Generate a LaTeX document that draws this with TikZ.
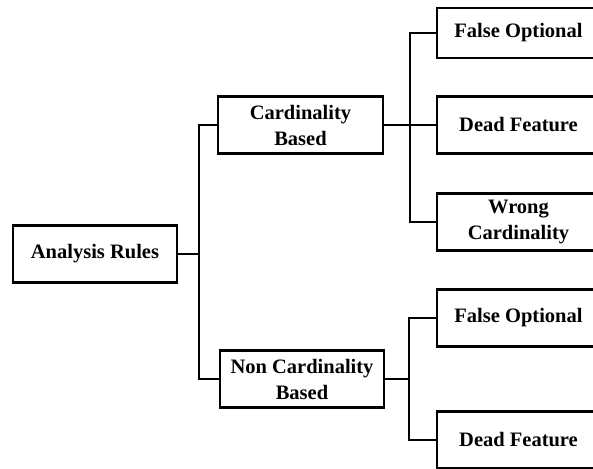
\documentclass[tikz,border=0pt]{standalone}
\usepackage{fontspec}
\setmainfont{Liberation Serif}
\begin{document}
\begin{tikzpicture}[x=1pt,y=-1pt,
  box/.style={draw, line width=2.8pt, fill=white, align=center, inner sep=0pt,
    font=\fontsize{20.5}{26}\selectfont\bfseries},
  wire/.style={line width=2.4pt}]
\useasboundingbox (0,0) rectangle (593,468);
% boxes, given by their corners
\node[box, minimum width=164pt, minimum height=57pt] (root) at (95,254) {Analysis Rules};
\node[box, minimum width=165pt, minimum height=57pt] (card) at (300.5,125) {Cardinality\\Based};
\node[box, minimum width=164pt, minimum height=57pt] (ncard) at (302,379) {Non Cardinality\\Based};
\node[box, minimum width=163pt, minimum height=50pt] (fo1) at (518.5,33) {False Optional};
\node[box, minimum width=163pt, minimum height=57pt] (df1) at (518.5,125) {Dead Feature};
\node[box, minimum width=163pt, minimum height=57pt] (wc) at (518.5,222) {Wrong\\Cardinality};
\node[box, minimum width=163pt, minimum height=57pt] (fo2) at (518.5,318) {False Optional};
\node[box, minimum width=163pt, minimum height=57pt] (df2) at (518.5,440) {Dead Feature};
% connectors
\coordinate (t) at (199,254);
\coordinate (b1) at (410,125);
\coordinate (b2) at (409,379);
\draw[wire] (root.east) -- (t);
\draw[wire] (card.west) -| (t) |- (ncard.west);
\draw[wire] (card.east) -- (b1);
\draw[wire] (fo1.west) -| (b1) |- (wc.west);
\draw[wire] (b1) -- (df1.west);
\draw[wire] (ncard.east) -- (b2);
\draw[wire] (fo2.west) -| (b2) |- (df2.west);
\end{tikzpicture}
\end{document}
